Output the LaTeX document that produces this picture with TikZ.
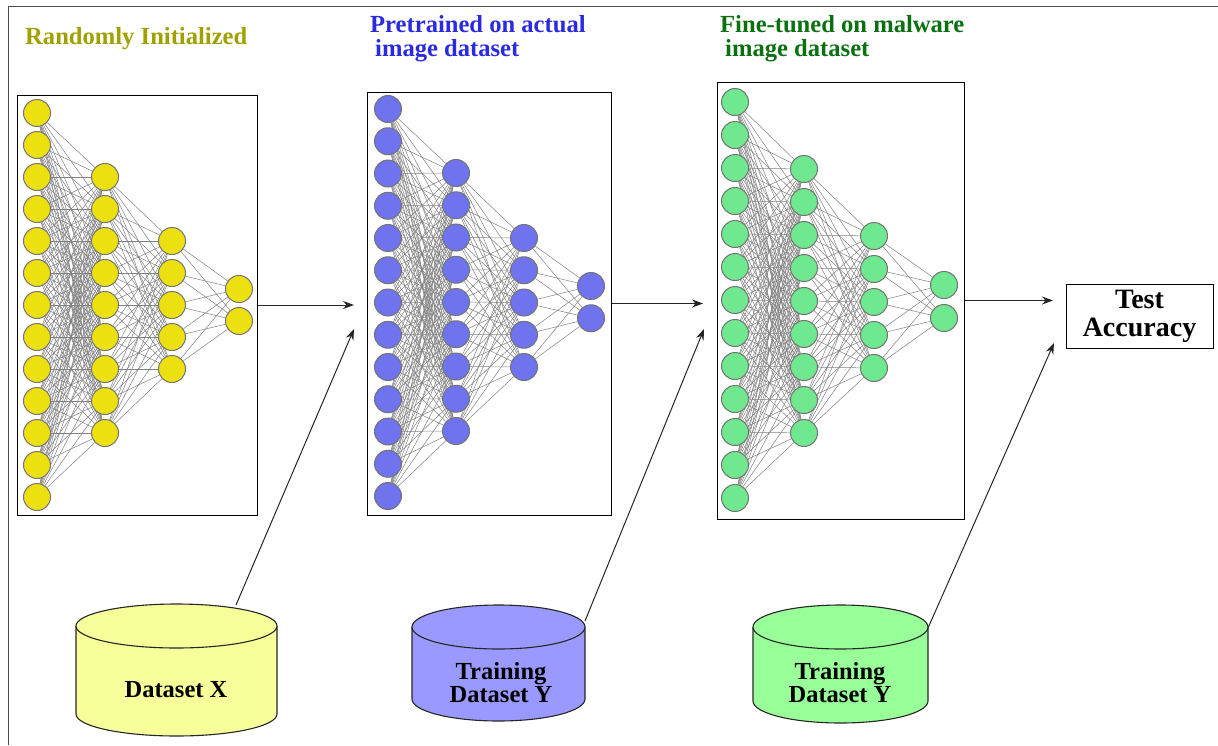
\documentclass[tikz,border=0pt]{standalone}
\usepackage{fontspec}
\setmainfont{Liberation Serif}
\usetikzlibrary{arrows.meta, backgrounds}
\tikzset{>={Stealth[length=11pt, width=8pt]}}
\definecolor{neuronyellow}{HTML}{EDE010}
\definecolor{neuronblue}{HTML}{6F74EE}
\definecolor{neurongreen}{HTML}{6FE88F}
\definecolor{dbyellow}{HTML}{F6FF99}
\definecolor{dbblue}{HTML}{9999FF}
\definecolor{dbgreen}{HTML}{99FF99}
\definecolor{titleyellow}{HTML}{A0A000}
\definecolor{titleblue}{HTML}{2A2AE0}
\definecolor{titlegreen}{HTML}{0A7010}
\tikzset{
    neuron/.style={circle, draw=black!55, line width=1pt, minimum size=27pt, inner sep=0pt},
    synapse/.style={draw=black!50, line width=0.5pt},
    netbox/.style={draw=black, line width=1pt, inner sep=0pt},
    database/.style={draw=black!85, line width=1.1pt},
    flow/.style={->, line width=1pt, black!85},
    caption/.style={font=\fontsize{24.6}{24}\selectfont\bfseries, align=left, anchor=west, inner sep=0pt},
    boxtext/.style={font=\fontsize{24.5}{23}\selectfont\bfseries, align=center, text=black, inner sep=0pt}
}
% #1 name, #2 fill, #3 step, #4 columns
\newcommand{\drawnet}[4]{
    \foreach \c/\x/\y/\k in {#4} {
        \foreach \i in {1,...,\k} {
            \node[neuron, fill=#2] (#1\c-\i) at (\x,{\y+(\i-1)*#3}) {};
        }
    }
    \begin{scope}[on background layer]
        \foreach \c/\d/\k/\m in {1/2/13/9, 2/3/9/5, 3/4/5/2} {
            \foreach \i in {1,...,\k} {
                \foreach \j in {1,...,\m} {
                    \draw[synapse] (#1\c-\i) -- (#1\d-\j);
                }
            }
        }
    \end{scope}
}
% #1 fill, #2 centre x, #3 top ellipse y, #4 bottom ellipse y, #5 x radius, #6 y radius
\newcommand{\drawdb}[6]{
    \draw[database, fill=#1] ({#2-#5},#3) -- ({#2-#5},#4)
        arc[start angle=180, end angle=360, x radius=#5pt, y radius=#6pt] -- ({#2+#5},#3);
    \draw[database, fill=#1] (#2,#3) ellipse[x radius=#5pt, y radius=#6pt];
}

\begin{document}
\begin{tikzpicture}[x=1pt, y=-1pt]
    \useasboundingbox (0,0) rectangle (1218,745);
    \draw[black!70, line width=1pt] (1218,6) -- (8,6) -- (8,745);

    % titles
    \node[caption, text=titleyellow] (titleA) at (25,38.5) {Randomly Initialized};
    \node[caption, text=titleblue] (titleB) at (370,39) {Pretrained on actual\\\hspace{5pt}image dataset};
    \node[caption, text=titlegreen] (titleC) at (720,39) {Fine-tuned on malware\\\hspace{5pt}image dataset};

    % boxes
    \node[netbox, minimum width=240pt, minimum height=420pt] (boxA) at (137,305) {};
    \node[netbox, minimum width=244pt, minimum height=423pt] (boxB) at (489,303.5) {};
    \node[netbox, minimum width=247pt, minimum height=437pt] (boxC) at (840.5,300.5) {};

    % networks
    \drawnet{a}{neuronyellow}{32}{1/37/113/13, 2/105/177/9, 3/172/241/5, 4/239/289/2}
    \drawnet{b}{neuronblue}{32.25}{1/388/109/13, 2/456/173/9, 3/524/238/5, 4/591/286/2}
    \drawnet{c}{neurongreen}{33}{1/735/102/13, 2/804/169/9, 3/874/236/5, 4/944/285/2}

    % datasets
    \drawdb{dbyellow}{176.5}{626}{714}{100.5}{22}
    \drawdb{dbblue}{498.5}{627}{699}{86.5}{22}
    \drawdb{dbgreen}{840.5}{627}{701}{87.5}{22}
    \node[boxtext] (dataX) at (176,690) {Dataset X};
    \node[boxtext] (dataY) at (501,683) {Training\\Dataset Y};
    \node[boxtext] (dataZ) at (840,683) {Training\\Dataset Y};

    % result
    \node[netbox, minimum width=147pt, minimum height=64pt, boxtext, font=\fontsize{28}{28}\selectfont\bfseries] (result) at (1139.5,316) {Test\\Accuracy};

    % arrows
    \coordinate (inB) at (354,305);
    \coordinate (inC) at (703,303.5);
    \coordinate (inR) at (1053,300.5);
    \coordinate (rimX) at (236,605);
    \coordinate (rimY) at (585,621);
    \coordinate (rimZ) at (928,628);
    \coordinate (feedB) at (354,329);
    \coordinate (feedC) at (704,329);
    \coordinate (feedR) at (1054,343);
    \draw[flow] (boxA.east) -- (inB);
    \draw[flow] (boxB.east) -- (inC);
    \draw[flow] (boxC.east) -- (inR);
    \draw[flow] (rimX) -- (feedB);
    \draw[flow] (rimY) -- (feedC);
    \draw[flow] (rimZ) -- (feedR);
\end{tikzpicture}
\end{document}
